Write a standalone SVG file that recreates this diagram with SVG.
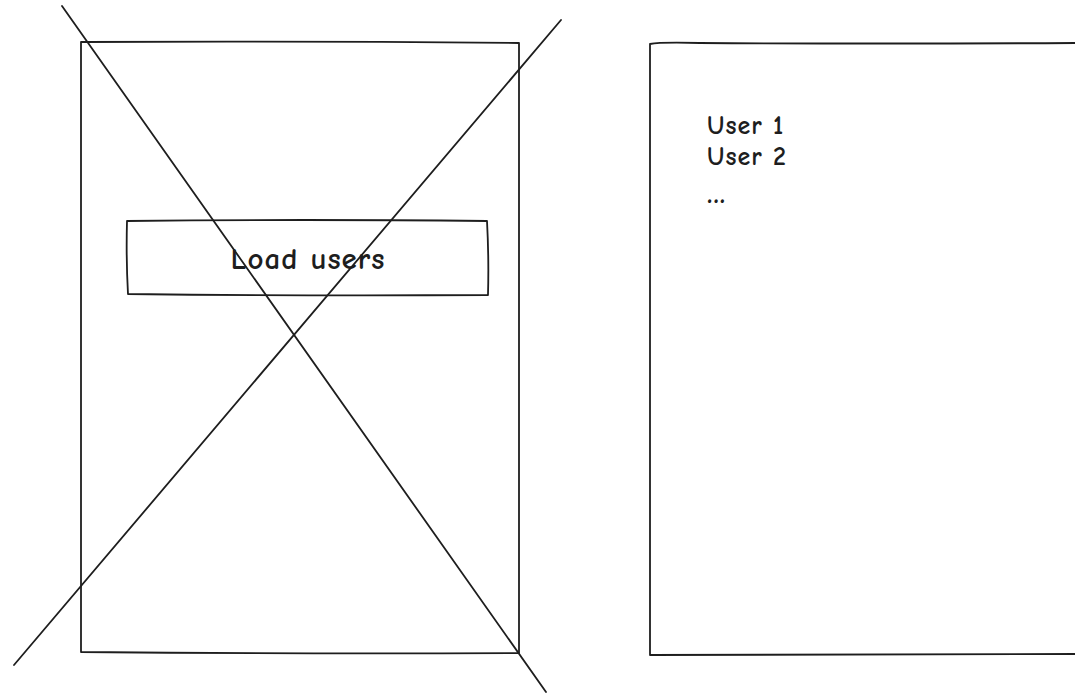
<svg xmlns="http://www.w3.org/2000/svg" width="1075" height="695" viewBox="0 0 1075 695">
<style>
.s{fill:none;stroke:#1e1e1e;stroke-width:1.8;stroke-linecap:round;stroke-linejoin:round}
.t{font-family:"Comic Neue","Liberation Sans",sans-serif;font-weight:bold;fill:#1e1e1e;letter-spacing:1px}
</style>
<rect width="1075" height="695" fill="#ffffff"/>
<g id="left-screen">
<path class="s" d="M81 42 Q300 41 519 43 M519 43 Q518 350 519 653 M519 653 Q300 654 81 652 M81 652 Q80 350 81 42"/>
</g>
<g id="right-screen">
<path class="s" d="M650 44 Q660 42 700 43 Q880 44 1076 43 M650 44 Q649 350 650 655 M650 655 Q860 654 1076 654"/>
<text class="t" x="707" y="134" font-size="26">User 1</text>
<text class="t" x="707" y="165" font-size="26">User 2</text>
<text class="t" x="707" y="203" font-size="30">...</text>
</g>
<g id="load-users-button">
<path class="s" d="M127 221 Q300 219 487 221 M487 221 Q489 258 488 295 M488 295 Q300 296 128 294 M128 294 Q126 258 127 221"/>
<text class="t" x="308" y="269" font-size="31" text-anchor="middle">Load users</text>
</g>
<g id="connectors">
<path class="s" d="M62 6 L546 692"/>
<path class="s" d="M561 20 L14 665"/>
</g>
</svg>
